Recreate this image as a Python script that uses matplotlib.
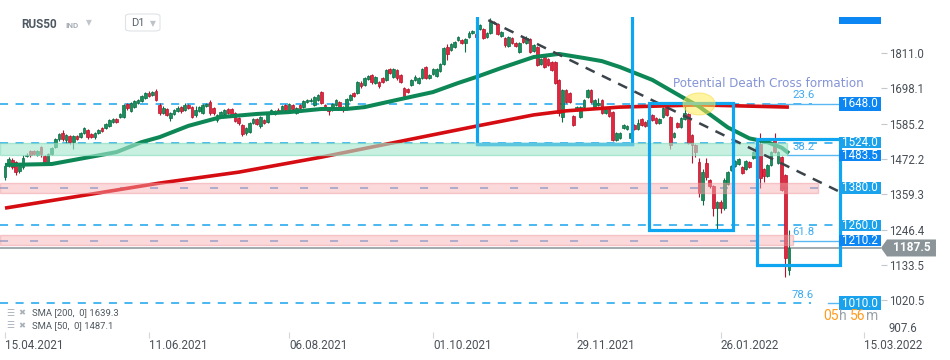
import matplotlib
matplotlib.use("Agg")
import matplotlib.pyplot as plt
from matplotlib.patches import Rectangle, Ellipse, Polygon, FancyBboxPatch
import numpy as np

plt.rcParams['lines.scale_dashes'] = False
plt.rcParams['font.family'] = ['Roboto', 'DejaVu Sans']

# ---------------- data ----------------
opens = [1415,1453,1469,1462,1434,1446,1482,1497,1499,1485,
         1510,1482,1462,1488,1511,1536,1555,1533,1546,1527,
         1546,1542,1555,1565,1552,1542,1555,1571,1571,1578,
         1590,1600,1607,1607,1648,1626,1638,1651,1657,1667,
         1683,1677,1690,1645,1619,1632,1603,1616,1625,1638,
         1629,1645,1638,1613,1625,1619,1641,1654,1635,1597,
         1607,1616,1632,1632,1619,1603,1581,1555,1558,1587,
         1600,1578,1597,1590,1619,1616,1629,1622,1645,1622,
         1645,1619,1645,1638,1654,1657,1645,1661,1686,1645,
         1635,1629,1645,1654,1638,1632,1661,1683,1683,1715,
         1709,1728,1741,1715,1718,1731,1725,1760,1734,1757,
         1741,1699,1696,1709,1725,1715,1731,1766,1731,1744,
         1738,1754,1776,1830,1821,1830,1853,1853,1843,1862,
         1875,1872,1888,1888,1862,1875,1910,1904,1865,1859,
         1834,1859,1843,1814,1859,1843,1856,1818,1830,1776,
         1798,1792,1782,1782,1725,1606,1693,1683,1610,1629,
         1607,1638,1670,1693,1638,1645,1661,1619,1632,1622,
         1533,1539,1571,1568,1539,1581,1568,1600,1590,1578,
         1612,1603,1587,1607,1645,1607,1542,1587,1575,1600,
         1616,1549,1517,1462,1341,1459,1405,1385,1315,1334,
         1315,1392,1437,1449,1455,1446,1440,1462,1475,1475,
         1520,1440,1417,1452,1536,1459,1478,1420,1117]
closes = [1450,1472,1446,1430,1450,1475,1486,1485,1487,1499,
          1487,1459,1488,1507,1536,1552,1536,1549,1527,1546,
          1536,1555,1571,1542,1542,1555,1565,1562,1584,1597,
          1600,1590,1616,1645,1635,1651,1657,1661,1673,1683,
          1673,1686,1661,1619,1635,1613,1619,1629,1635,1625,
          1645,1635,1607,1629,1638,1645,1648,1619,1619,1613,
          1622,1629,1619,1616,1594,1587,1552,1571,1587,1600,
          1584,1607,1587,1616,1629,1625,1622,1641,1629,1648,
          1632,1635,1635,1657,1661,1661,1670,1677,1651,1635,
          1625,1648,1661,1638,1629,1664,1677,1673,1718,1705,
          1731,1738,1718,1734,1705,1718,1757,1747,1760,1731,
          1718,1673,1686,1725,1734,1731,1760,1731,1741,1760,
          1760,1776,1827,1808,1840,1846,1862,1843,1856,1875,
          1881,1862,1900,1859,1875,1910,1907,1872,1878,1837,
          1862,1843,1834,1843,1846,1859,1814,1837,1773,1792,
          1766,1773,1757,1715,1619,1693,1654,1654,1581,1638,
          1638,1661,1693,1654,1661,1651,1619,1632,1610,1533,
          1555,1555,1581,1578,1555,1568,1587,1581,1578,1597,
          1597,1587,1600,1635,1613,1517,1555,1575,1603,1619,
          1523,1517,1495,1363,1430,1414,1385,1315,1334,1315,
          1405,1430,1450,1465,1472,1427,1465,1446,1494,1510,
          1411,1417,1452,1494,1494,1494,1373,1155,1187.5]
highs = [1455,1478,1474,1466,1456,1484,1490,1500,1502,1502,
         1512,1485,1491,1510,1540,1556,1565,1552,1550,1549,
         1549,1558,1575,1568,1555,1558,1568,1574,1587,1600,
         1603,1604,1619,1648,1651,1654,1660,1664,1676,1686,
         1688,1690,1695,1650,1640,1636,1622,1632,1640,1641,
         1650,1648,1641,1640,1641,1648,1652,1660,1638,1616,
         1626,1632,1635,1635,1622,1606,1584,1575,1590,1603,
         1603,1610,1600,1619,1632,1628,1635,1644,1648,1651,
         1648,1638,1648,1660,1664,1667,1673,1680,1690,1648,
         1638,1651,1664,1657,1641,1667,1680,1686,1721,1721,
         1734,1741,1744,1737,1721,1734,1760,1763,1763,1760,
         1744,1702,1699,1728,1740,1734,1763,1769,1744,1763,
         1763,1779,1830,1840,1843,1849,1866,1856,1859,1881,
         1885,1875,1904,1891,1878,1923,1913,1907,1881,1862,
         1865,1862,1846,1846,1862,1865,1859,1840,1834,1795,
         1801,1795,1785,1785,1728,1696,1696,1686,1613,1641,
         1641,1664,1696,1696,1664,1667,1664,1635,1635,1625,
         1558,1558,1584,1581,1558,1584,1600,1603,1593,1600,
         1616,1606,1603,1638,1648,1610,1558,1590,1606,1640,
         1619,1552,1520,1475,1440,1475,1408,1388,1337,1340,
         1410,1433,1453,1468,1475,1449,1468,1465,1497,1520,
         1555,1443,1455,1497,1555,1497,1481,1423,1245]
lows = [1405,1448,1440,1420,1428,1440,1478,1480,1484,1481,
        1478,1455,1458,1485,1508,1530,1530,1522,1520,1505,
        1533,1538,1552,1536,1538,1536,1552,1558,1568,1575,
        1587,1587,1604,1604,1630,1622,1634,1648,1654,1664,
        1670,1672,1658,1612,1615,1608,1595,1612,1622,1620,
        1626,1632,1603,1605,1622,1615,1638,1612,1612,1590,
        1603,1612,1616,1612,1590,1582,1546,1550,1555,1584,
        1580,1570,1584,1587,1616,1613,1619,1619,1626,1619,
        1629,1616,1632,1635,1651,1654,1642,1658,1648,1632,
        1612,1626,1642,1635,1622,1629,1658,1670,1680,1700,
        1706,1725,1712,1712,1700,1715,1722,1744,1731,1725,
        1715,1665,1683,1706,1722,1712,1728,1728,1728,1741,
        1735,1751,1773,1788,1818,1827,1850,1840,1815,1859,
        1872,1859,1885,1856,1859,1872,1904,1869,1862,1830,
        1830,1840,1830,1810,1843,1840,1810,1814,1768,1773,
        1762,1770,1754,1712,1610,1590,1650,1650,1578,1626,
        1603,1635,1667,1650,1635,1642,1616,1616,1606,1530,
        1530,1536,1568,1565,1536,1565,1565,1578,1575,1575,
        1594,1584,1584,1604,1610,1505,1539,1572,1572,1597,
        1520,1460,1480,1350,1325,1405,1380,1290,1246,1300,
        1310,1389,1434,1446,1452,1424,1437,1443,1472,1472,
        1380,1400,1414,1449,1491,1456,1370,1095,1100]

sma50_idx = [0, 13, 22, 31, 38, 43, 51, 60, 70, 79, 88, 95, 100, 109, 119, 126, 131,
             138, 147, 154, 161, 166, 171, 180, 188, 193, 201, 207, 212, 216, 218]
sma50_val = [1453, 1456, 1475, 1494, 1526, 1542, 1578, 1606, 1616, 1622, 1632, 1632, 1638,
             1661, 1686, 1715, 1734, 1763, 1798, 1808, 1795, 1785, 1766, 1725, 1672, 1640,
             1573, 1538, 1526, 1508, 1490]
sma200_idx = [0, 43, 65, 88, 131, 147, 156, 171, 193, 218]
sma200_val = [1315, 1395, 1430, 1478, 1577, 1613, 1626, 1638, 1645, 1638]
sma200_last, sma50_last = 1639.3, 1487.1

tick_idx = [0, 40, 79, 119, 159, 199, 239]
tick_lbl = ['15.04.2021', '11.06.2021', '06.08.2021', '01.10.2021',
            '29.11.2021', '26.01.2022', '15.03.2022']
ytick_vals = [1811.0, 1698.1, 1585.2, 1472.2, 1359.3, 1246.4, 1133.5, 1020.5]
ybottom_lbl = 907.6

level_main = [1648.0, 1524.0, 1260.0, 1010.0]          # dashed cyan levels
level_main_end = [0.922, 0.951, 0.951, 0.920]
level_zone = [1380.0, 1210.2]                            # dashed mid-zone lines
level_zone_end = [0.928, 0.900]
label_vals = [1648.0, 1524.0, 1483.5, 1380.0, 1260.0, 1210.2, 1010.0]
label_dark = [True, False, True, False, False, True, False]
label_hpx = [14, 11, 11, 11.5, 11.5, 11, 14]
fib_vals = [1648.0, 1483.5, 1210.2, 1010.0]
fib_names = ['23.6', '38.2', '61.8', '78.6']
fib_start = [0.867, 0.893, 0.900, 0.940]
top_label_val = 1936.0
current = 1187.5
green_zone = (1483.5, 1524.0, 0.893)
pink_zones = [(1363, 1395, 0.9285), (1196, 1228, 0.900)]
rect1 = (131.3, 174.4, 1521, 1990)
rect2 = (179.1, 202.4, 1245, 1651)
rect3 = (209.1, 232.2, 1133, 1536)
trend_x = [134.4, 231.6]
trend_y = [1916, 1370]
cross_center = (193.0, 1648.0)

# ---------------- figure ----------------
W, H = 950, 360
fig = plt.figure(figsize=(W / 100, H / 100), dpi=100)
fig.patch.set_facecolor('white')
AX_R, AX_T, AX_B = 881, 17, 335
ax = fig.add_axes([0, 1 - AX_B / H, AX_R / W, (AX_B - AX_T) / H])
ax.set_xlim(-1.39, 243.6)
ax.set_ylim(909.2, 1926.1)
for s in ax.spines.values():
    s.set_visible(False)
PY = (1926.1 - 909.2) / (AX_B - AX_T)   # price units per pixel
PX = (243.6 + 1.39) / AX_R                # index units per pixel
ytr = ax.get_yaxis_transform()

def fx(px):
    return px / W

def fy(py):
    return 1 - py / H

# candles
o = np.array(opens, float); c = np.array(closes, float)
hi = np.array(highs, float); lo = np.array(lows, float)
idx = np.arange(len(o))
up = c >= o
face = np.where(up, '#17905e', '#e4253d')
edge = np.where(up, '#0b6b43', '#b3142b')
ax.vlines(idx, lo, hi, colors=edge, lw=0.8, zorder=2)
ax.bar(idx, np.maximum(np.abs(c - o), 2.5), bottom=np.minimum(o, c), width=0.74,
       color=face, edgecolor=edge, linewidth=0.5, zorder=3)

# moving averages
ax.plot(sma200_idx, sma200_val, color='#d50d12', lw=2.6, zorder=4, solid_capstyle='butt')
ax.plot(sma50_idx, sma50_val, color='#0e8757', lw=2.9, zorder=4, solid_capstyle='butt')

# level lines
for v, e in zip(level_main, level_main_end):
    ax.axhline(v, xmin=0, xmax=e, color='#19a3ee', lw=1.1, dashes=(5.8, 5.4), zorder=1.5)
for v, e in zip(level_zone, level_zone_end):
    ax.axhline(v, xmin=0, xmax=e, color='#4b94dc', lw=1.1, dashes=(5.8, 15.8), zorder=1.5)
for v, s in zip(fib_vals, fib_start):
    ax.axhline(v, xmin=s, xmax=0.953, color='#5ab8f0', lw=1.0, zorder=1.5)
ax.axhline(current, color='#8a9399', lw=1.1, zorder=1.5)

# zones (drawn translucent over the price)
ax.axhspan(green_zone[0], green_zone[1], xmin=0, xmax=green_zone[2], facecolor='#a6e8cf',
           edgecolor='#86dcbc', lw=1.0, alpha=0.62, zorder=5)
for a, b, e in pink_zones:
    ax.axhspan(a, b, xmin=0, xmax=e, facecolor='#f7abb0', edgecolor='#ee9098',
               lw=1.0, alpha=0.45, zorder=5)

# trend line
ax.plot(trend_x, trend_y, color='#3b434b', lw=1.8, dashes=(7.2, 5.8), zorder=6)

# boxes
for (x0, x1, y0, y1) in (rect1, rect2, rect3):
    ax.add_patch(Rectangle((x0, y0), x1 - x0, y1 - y0, fill=False, ec='#0ea6f0',
                           lw=2.3, zorder=6, joinstyle='miter'))
ax.plot([rect1[0], rect1[1]], [rect1[2], rect1[2]], color='#5cc6de', lw=2.4, zorder=6.5)

# potential death cross marker
ax.add_patch(Ellipse(cross_center, 32 * PX, 22 * PY, facecolor='#ffec55', edgecolor='#f3dc4a',
                     lw=0.8, alpha=0.55, zorder=7))
ax.text(185.8, 1714, 'Potential Death Cross formation', family='DejaVu Sans', fontsize=8.6,
        color='#8494d6', ha='left', va='center', zorder=8)

# fib labels
for v, n in zip(fib_vals, fib_names):
    ax.annotate(n, xy=(0.899, v), xycoords=ytr, xytext=(0, 6.2), textcoords='offset points',
                ha='left', va='center', fontsize=8.2, color='#3eaaf0', zorder=8)

# price labels on the right
BX0, BX1 = 839 / AX_R, 1.0
for v, dark, hp in zip(label_vals, label_dark, label_hpx):
    col = '#0b86f2' if dark else '#1aa3ec'
    ax.add_patch(Rectangle((BX0, v - hp / 2 * PY), BX1 - BX0, hp * PY, transform=ytr,
                           facecolor=col, edgecolor='none', zorder=9, clip_on=False))
    ax.text((BX0 + BX1) / 2, v, f'{v:.1f}', transform=ytr, ha='center', va='center',
            fontsize=8.4, color='white', zorder=10)
ax.add_patch(Rectangle((BX0, top_label_val - 10.5 * PY), BX1 - BX0, 17 * PY, transform=ytr,
                       facecolor='#0b86f2', edgecolor='none', zorder=9, clip_on=True))
ax.text((BX0 + BX1) / 2, top_label_val, f'{top_label_val:.1f}', transform=ytr, ha='center',
        va='center', fontsize=8.4, color='white', zorder=10, clip_on=True)

# current price tag
hh = 8.5 * PY
ax.add_patch(Polygon([(1.0, current), (1.0068, current + hh), (1.0624, current + hh),
                      (1.0624, current - hh), (1.0068, current - hh)], closed=True,
                     transform=ytr, facecolor='#8a9499', edgecolor='none', clip_on=False, zorder=9))
ax.text(1.0346, current, f'{current:.1f}', transform=ytr, ha='center', va='center',
        fontsize=8.6, fontweight='bold', color='white', zorder=10, clip_on=False)

# axes ticks
ax.set_xticks(tick_idx)
ax.set_xticklabels(tick_lbl)
for t in ax.get_xticklabels():
    t.set_ha('left')
ax.tick_params(axis='x', direction='inout', length=4, width=0.8, color='#d3d7db',
               labelsize=8.4, labelcolor='#4a5058', pad=1)
ax.yaxis.tick_right()
ax.set_yticks(ytick_vals)
ax.set_yticklabels([f'{v:.1f}' for v in ytick_vals])
ax.tick_params(axis='y', direction='out', length=4.3, width=0.8, color='#c4c8cc',
               labelsize=8.3, labelcolor='#4a5058', pad=1.5)
ax.annotate(f'{ybottom_lbl:.1f}', xy=(1.009, ybottom_lbl), xycoords=ytr, xytext=(0, 4.8),
            textcoords='offset points', ha='left', va='center', fontsize=8.3,
            color='#4a5058', annotation_clip=False)

# header
fig.text(fx(21), fy(24), 'RUS50', fontsize=8.5, fontweight='bold', color='#4e5862',
         ha='left', va='center')
fig.text(fx(65), fy(25), 'IND', fontsize=5.8, fontweight='bold', color='#a6aeb6',
         ha='left', va='center')
fig.text(fx(85.5), fy(22.5), '▼', family='DejaVu Sans', fontsize=5.5, color='#c0c6cc',
         ha='left', va='center')
fig.patches.append(FancyBboxPatch((fx(125.5), fy(31)), fx(34.5), 17 / H,
                                  boxstyle='round,pad=0,rounding_size=0.006',
                                  transform=fig.transFigure, facecolor='white',
                                  edgecolor='#dfe3e7', lw=0.8))
fig.text(fx(131), fy(23.5), 'D1', fontsize=8, color='#58626c', ha='left', va='center')
fig.text(fx(149.5), fy(23.5), '▼', family='DejaVu Sans', fontsize=5.5, color='#bcc2c8',
         ha='left', va='center')

# indicator legend
for yy, name, val in ((313, 'SMA [200,  0]', sma200_last), (326, 'SMA [50,  0]', sma50_last)):
    fig.text(fx(6.5), fy(yy), '☰', family='DejaVu Sans', fontsize=6.5, color='#a8b0b8',
             ha='left', va='center')
    fig.text(fx(18.5), fy(yy), '✖', family='DejaVu Sans', fontsize=6, color='#a8b0b8',
             ha='left', va='center')
    fig.text(fx(32), fy(yy), f'{name} {val:.1f}', fontsize=6.8, color='#505860',
             ha='left', va='center')

# countdown
for xx, s, col in ((823, '05', '#ff9b1e'), (838.8, 'h', '#9aa2a8'),
                   (850, '56', '#ff9b1e'), (865.8, 'm', '#9aa2a8')):
    fig.text(fx(xx), fy(316), s, fontsize=10, color=col, ha='left', va='center')

fig.savefig('out.png', dpi=100, facecolor='white')
